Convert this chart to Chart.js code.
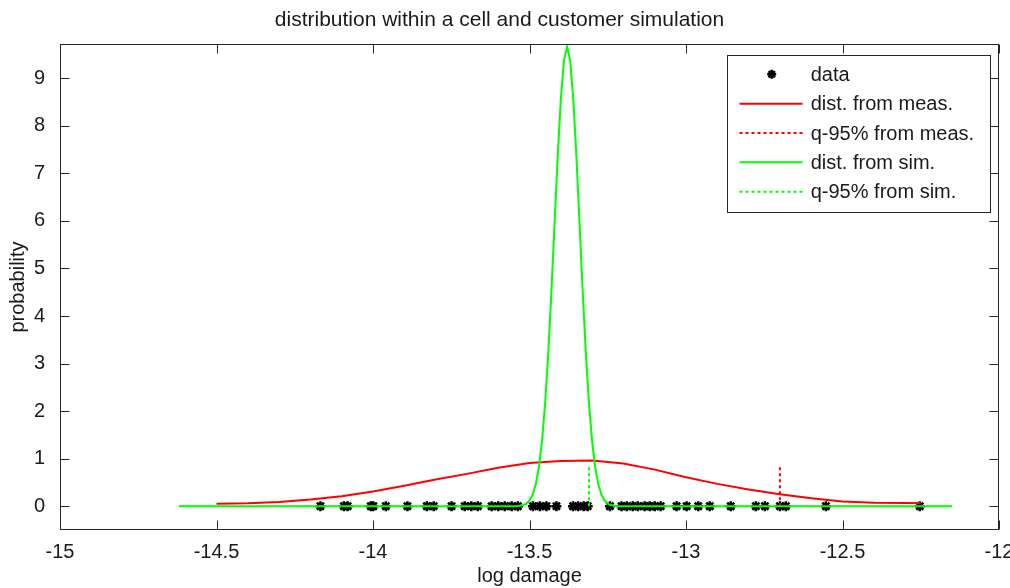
<!DOCTYPE html>
<html>
<head>
<meta charset="utf-8">
<title>distribution within a cell and customer simulation</title>
<script src="https://cdn.jsdelivr.net/npm/chart.js@4.4.0/dist/chart.umd.min.js"></script>
<style>
  html, body { margin: 0; padding: 0; background: #fff; }
  canvas { display: block; }
</style>
</head>
<body>
<canvas id="dist" width="1010" height="588"></canvas>
<script>
// measured log damage samples (all drawn at probability 0)
const dataX = [-14.168, -14.093, -14.081, -14.007, -13.999, -13.959, -13.890, -13.828, -13.806, -13.749,
  -13.707, -13.686, -13.665, -13.621, -13.600, -13.579, -13.557, -13.537, -13.489, -13.467,
  -13.446, -13.414, -13.361, -13.345, -13.327, -13.314, -13.243, -13.206, -13.189, -13.170,
  -13.154, -13.132, -13.116, -13.100, -13.081, -13.030, -12.998, -12.961, -12.924, -12.857,
  -12.777, -12.748, -12.700, -12.681, -12.553, -12.253];

// density from measurements
const measX = [-14.5, -14.4, -14.3, -14.2, -14.1, -14.0, -13.9, -13.8, -13.7, -13.6, -13.5, -13.4,
  -13.3, -13.2, -13.1, -13.0, -12.9, -12.8, -12.7, -12.6, -12.5, -12.4, -12.3, -12.25];
const measY = [0.05, 0.06, 0.09, 0.14, 0.21, 0.31, 0.43, 0.56, 0.68, 0.81, 0.91, 0.95,
  0.96, 0.90, 0.77, 0.61, 0.47, 0.35, 0.25, 0.17, 0.10, 0.075, 0.068, 0.065];

// density from simulation
const simX = [-14.62, -13.55, -13.54, -13.53, -13.52, -13.51, -13.50, -13.49, -13.48, -13.47, -13.46,
  -13.45, -13.44, -13.43, -13.42, -13.41, -13.40, -13.39, -13.38, -13.37, -13.36, -13.35, -13.34,
  -13.33, -13.32, -13.31, -13.30, -13.29, -13.28, -13.27, -13.26, -13.25, -13.24, -13.23, -13.22,
  -13.21, -12.15];
const simY = [0, 0, 0.004, 0.01, 0.025, 0.056, 0.12, 0.24, 0.46, 0.82, 1.37,
  2.17, 3.22, 4.51, 5.93, 7.34, 8.55, 9.37, 9.66, 9.37, 8.55, 7.34, 5.93,
  4.51, 3.22, 2.17, 1.37, 0.82, 0.46, 0.24, 0.12, 0.056, 0.025, 0.01, 0.004,
  0, 0];

// 95% quantiles
const measQ = -12.70;
const simQ = -13.31;
const qY = [0, 0.88];

const xTicks = [-15, -14.5, -14, -13.5, -13, -12.5, -12];
const yTicks = [0, 1, 2, 3, 4, 5, 6, 7, 8, 9];

const FONT = 'Liberation Sans, Arial, Helvetica, sans-serif';
const INK = '#1a1a1a';
Chart.defaults.font.family = FONT;
Chart.defaults.color = INK;

function pts(xs, ys) {
  return xs.map((x, i) => ({x: x, y: ys[i]}));
}

const legendRows = [
  {text: 'data', marker: true},
  {text: 'dist. from meas.', color: '#ff0000', dash: []},
  {text: 'q-95% from meas.', color: '#ff0000', dash: [3, 3]},
  {text: 'dist. from sim.', color: '#00ff00', dash: []},
  {text: 'q-95% from sim.', color: '#00ff00', dash: [3, 3]}
];

function star(ctx, x, y, r) {
  ctx.beginPath();
  ctx.moveTo(x - r, y); ctx.lineTo(x + r, y);
  ctx.moveTo(x, y - r); ctx.lineTo(x, y + r);
  const d = r * 0.7071;
  ctx.moveTo(x - d, y - d); ctx.lineTo(x + d, y + d);
  ctx.moveTo(x - d, y + d); ctx.lineTo(x + d, y - d);
  ctx.stroke();
}

// matlab style box: border, inward ticks on every side, legend inside
const matlabBox = {
  id: 'matlabBox',
  afterDraw(chart) {
    const ctx = chart.ctx;
    const a = chart.chartArea;
    const L = Math.round(a.left) + 0.5, R = Math.round(a.right) - 0.5;
    const T = Math.round(a.top) + 0.5, B = Math.round(a.bottom) - 0.5;
    ctx.save();
    ctx.strokeStyle = '#262626';
    ctx.lineWidth = 1;
    ctx.strokeRect(L, T, R - L, B - T);
    ctx.beginPath();
    chart.scales.x.ticks.forEach(t => {
      const px = Math.round(chart.scales.x.getPixelForValue(t.value)) + 0.5;
      ctx.moveTo(px, B); ctx.lineTo(px, B - 9);
      ctx.moveTo(px, T); ctx.lineTo(px, T + 9);
    });
    chart.scales.y.ticks.forEach(t => {
      const py = Math.round(chart.scales.y.getPixelForValue(t.value)) + 0.5;
      ctx.moveTo(L, py); ctx.lineTo(L + 9, py);
      ctx.moveTo(R, py); ctx.lineTo(R - 9, py);
    });
    ctx.stroke();

    // legend
    const bx = 727.5, by = 55.5, bw = 263, bh = 157;
    ctx.fillStyle = '#fff';
    ctx.fillRect(bx, by, bw, bh);
    ctx.strokeStyle = '#262626';
    ctx.strokeRect(bx, by, bw, bh);
    ctx.font = '20px ' + FONT;
    ctx.textBaseline = 'middle';
    ctx.textAlign = 'left';
    legendRows.forEach((row, i) => {
      const y = 74.3 + i * 29.35;
      if (row.marker) {
        ctx.strokeStyle = '#000';
        ctx.lineWidth = 2.5;
        ctx.setLineDash([]);
        star(ctx, 771.7, y, 4.5);
      } else {
        ctx.strokeStyle = row.color;
        ctx.lineWidth = 2;
        ctx.setLineDash(row.dash);
        ctx.beginPath();
        ctx.moveTo(739.5, y); ctx.lineTo(802.5, y);
        ctx.stroke();
      }
      ctx.setLineDash([]);
      ctx.fillStyle = INK;
      ctx.fillText(row.text, 810.7, y + 1);
    });
    ctx.restore();
  }
};

const ctx = document.getElementById('dist');
new Chart(ctx, {
  type: 'scatter',
  data: {
    datasets: [
      {
        label: 'data',
        data: dataX.map(x => ({x: x, y: 0})),
        pointStyle: 'star',
        pointRadius: 5,
        pointBorderWidth: 2.5,
        borderColor: '#000',
        backgroundColor: '#000',
        order: 5
      },
      {
        label: 'dist. from meas.',
        data: pts(measX, measY),
        showLine: true,
        borderColor: '#ff0000',
        borderWidth: 2,
        pointRadius: 0,
        order: 4
      },
      {
        label: 'q-95% from meas.',
        data: pts([measQ, measQ], qY),
        showLine: true,
        borderColor: '#ff0000',
        borderWidth: 2,
        borderDash: [3, 3],
        pointRadius: 0,
        order: 3
      },
      {
        label: 'dist. from sim.',
        data: pts(simX, simY),
        showLine: true,
        borderColor: '#00ff00',
        borderWidth: 2,
        pointRadius: 0,
        order: 2
      },
      {
        label: 'q-95% from sim.',
        data: pts([simQ, simQ], qY),
        showLine: true,
        borderColor: '#00ff00',
        borderWidth: 2,
        borderDash: [3, 3],
        pointRadius: 0,
        order: 1
      }
    ]
  },
  options: {
    responsive: false,
    animation: false,
    layout: {
      padding: {top: 0, left: 0, right: 11, bottom: 0}
    },
    scales: {
      x: {
        type: 'linear',
        min: -15,
        max: -12,
        afterBuildTicks: scale => { scale.ticks = xTicks.map(v => ({value: v})); },
        afterFit: scale => {
          scale.height = 58;
          scale.paddingLeft = 0;
          scale.paddingRight = 0;
        },
        grid: {display: false},
        border: {display: false},
        ticks: {
          padding: 2,
          maxRotation: 0,
          autoSkip: false,
          font: {size: 20},
          color: INK,
          callback: v => String(v)
        },
        title: {
          display: true,
          text: 'log damage',
          font: {size: 20},
          color: INK,
          padding: {top: 0, bottom: 0}
        }
      },
      y: {
        type: 'linear',
        min: -0.5,
        max: 9.72,
        afterBuildTicks: scale => { scale.ticks = yTicks.map(v => ({value: v})); },
        afterFit: scale => {
          scale.width = 60;
          scale.paddingTop = 0;
          scale.paddingBottom = 0;
        },
        grid: {display: false},
        border: {display: false},
        ticks: {
          padding: 7,
          font: {size: 20},
          color: INK,
          callback: v => String(v)
        },
        title: {
          display: true,
          text: 'probability',
          font: {size: 20},
          color: INK,
          padding: {top: 6, bottom: 0}
        }
      }
    },
    plugins: {
      legend: {display: false},
      tooltip: {enabled: false},
      title: {
        display: true,
        text: 'distribution within a cell and customer simulation',
        font: {size: 21, weight: 'normal'},
        color: INK,
        padding: {top: 8, bottom: 10.8}
      }
    }
  },
  plugins: [matlabBox]
});
</script>
</body>
</html>
